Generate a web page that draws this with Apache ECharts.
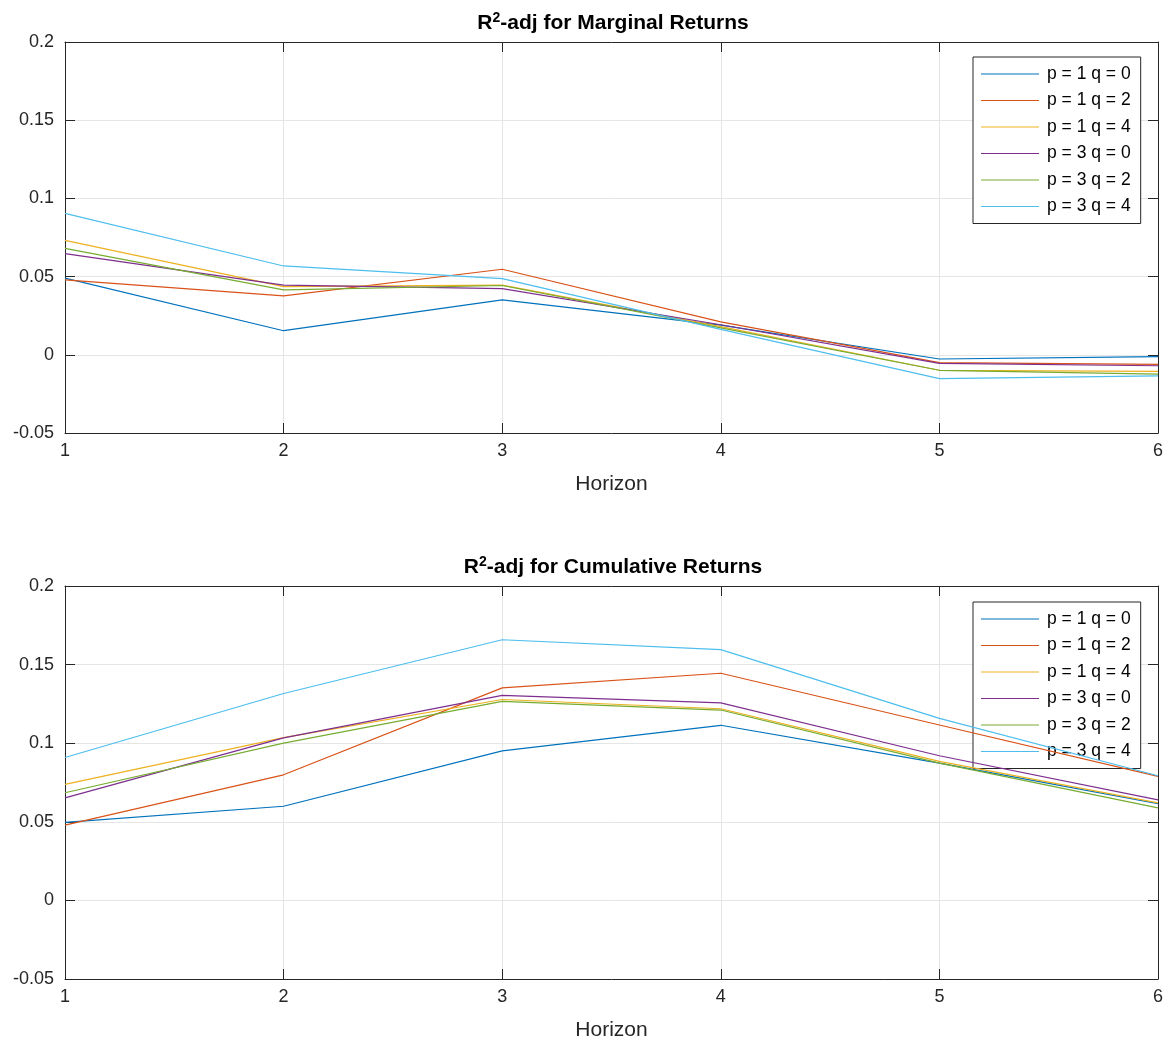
<!DOCTYPE html>
<html><head><meta charset="utf-8">
<script src="https://cdn.jsdelivr.net/npm/echarts@6/dist/echarts.min.js"></script>
<style>html,body{margin:0;padding:0;background:#fff}#c{width:1176px;height:1044px}</style>
</head><body><div id="c"></div>
<script>
const horizons = [1, 2, 3, 4, 5, 6];
const seriesNames = ['p = 1 q = 0', 'p = 1 q = 2', 'p = 1 q = 4', 'p = 3 q = 0', 'p = 3 q = 2', 'p = 3 q = 4'];
const colors = ['#0072BD', '#D95319', '#EDB120', '#7E2F8E', '#77AC30', '#4DBEEE'];
const yTicks = [-0.05, 0, 0.05, 0.1, 0.15, 0.2];

// Marginal returns
const marg_p1q0 = [0.0490, 0.0154, 0.0351, 0.0190, -0.0027, -0.0012];
const marg_p1q2 = [0.0479, 0.0377, 0.0547, 0.0210, -0.0050, -0.0061];
const marg_p1q4 = [0.0732, 0.0436, 0.0445, 0.0180, -0.0099, -0.0106];
const marg_p3q0 = [0.0647, 0.0445, 0.0423, 0.0192, -0.0055, -0.0070];
const marg_p3q2 = [0.0681, 0.0415, 0.0443, 0.0172, -0.0099, -0.0123];
const marg_p3q4 = [0.0904, 0.0568, 0.0487, 0.0163, -0.0152, -0.0135];

// Cumulative returns
const cum_p1q0 = [0.0496, 0.0599, 0.0951, 0.1114, 0.0873, 0.0616];
const cum_p1q2 = [0.0479, 0.0799, 0.1352, 0.1445, 0.1116, 0.0789];
const cum_p1q4 = [0.0738, 0.1036, 0.1278, 0.1219, 0.0884, 0.0620];
const cum_p3q0 = [0.0652, 0.1034, 0.1304, 0.1257, 0.0920, 0.0639];
const cum_p3q2 = [0.0685, 0.1000, 0.1266, 0.1211, 0.0873, 0.0589];
const cum_p3q4 = [0.0909, 0.1316, 0.1658, 0.1595, 0.1158, 0.0793];

const margSets = [marg_p1q0, marg_p1q2, marg_p1q4, marg_p3q0, marg_p3q2, marg_p3q4];
const cumSets = [cum_p1q0, cum_p1q2, cum_p1q4, cum_p3q0, cum_p3q2, cum_p3q4];

const FONT = '"Liberation Sans", Arial, Helvetica, sans-serif';
const AX = '#262626';
const GRIDC = '#e5e5e5';

function pairs(vals) { return horizons.map((h, i) => [h, vals[i]]); }

const grids = [
  { left: 65, top: 42, width: 1093, height: 391 },
  { left: 65, top: 586, width: 1093, height: 393 }
];

const xAxes = [], yAxes = [];
grids.forEach((g, gi) => {
  xAxes.push({
    type: 'value', gridIndex: gi, min: 1, max: 6, interval: 1, position: 'bottom',
    name: 'Horizon', nameLocation: 'middle', nameGap: 41,
    nameTextStyle: { fontFamily: FONT, fontSize: 21, color: AX },
    axisLine: { show: true, onZero: false, lineStyle: { color: AX, width: 1 } },
    axisTick: { show: true, inside: true, length: 10, lineStyle: { color: AX } },
    axisLabel: { fontFamily: FONT, fontSize: 18, color: AX, margin: 9 },
    splitLine: { show: true, lineStyle: { color: GRIDC, width: 1 } }
  });
  xAxes.push({
    type: 'value', gridIndex: gi, min: 1, max: 6, interval: 1, position: 'top',
    axisLine: { show: true, onZero: false, lineStyle: { color: AX, width: 1 } },
    axisTick: { show: true, inside: true, length: 10, lineStyle: { color: AX } },
    axisLabel: { show: false }, splitLine: { show: false }
  });
  yAxes.push({
    type: 'value', gridIndex: gi, min: -0.05, max: 0.2, interval: 0.05, position: 'left',
    axisLine: { show: true, onZero: false, lineStyle: { color: AX, width: 1 } },
    axisTick: { show: true, inside: true, length: 10, lineStyle: { color: AX } },
    axisLabel: { fontFamily: FONT, fontSize: 18, color: AX, margin: 11,
      formatter: v => String(parseFloat(v.toFixed(2))) },
    splitLine: { show: true, lineStyle: { color: GRIDC, width: 1 } }
  });
  yAxes.push({
    type: 'value', gridIndex: gi, min: -0.05, max: 0.2, interval: 0.05, position: 'right',
    axisLine: { show: true, onZero: false, lineStyle: { color: AX, width: 1 } },
    axisTick: { show: true, inside: true, length: 10, lineStyle: { color: AX } },
    axisLabel: { show: false }, splitLine: { show: false }
  });
});

const series = [];
[margSets, cumSets].forEach((sets, gi) => {
  sets.forEach((vals, si) => {
    series.push({
      type: 'line', name: seriesNames[si], xAxisIndex: gi * 2, yAxisIndex: gi * 2,
      data: pairs(vals), symbol: 'none', showSymbol: false, silent: true,
      lineStyle: { color: colors[si], width: 1.2 }, itemStyle: { color: colors[si] },
      z: 3 + si
    });
  });
});

function legendAt(top) {
  return {
    orient: 'vertical', left: 973, top: top, data: seriesNames,
    backgroundColor: '#fff', borderColor: AX, borderWidth: 1,
    padding: [8, 10, 8, 8], itemWidth: 58, itemHeight: 14, itemGap: 8.5,
    icon: 'path://M0,6.5 L58,6.5 L58,7.7 L0,7.7 Z',
    textStyle: { fontFamily: FONT, fontSize: 17.5, color: '#000', lineHeight: 14, padding: [0, 0, 0, 3] },
    selectedMode: false
  };
}

function titleAt(top, rest) {
  return {
    text: '{a|R}{s|2}{a|' + rest + '}', left: 608, top: top, textAlign: 'center',
    textStyle: {
      rich: {
        a: { fontFamily: FONT, fontSize: 21, fontWeight: 'bold', color: '#000' },
        s: { fontFamily: FONT, fontSize: 14, fontWeight: 'bold', color: '#000', padding: [0, 0, 11, 0] }
      }
    }
  };
}

const chart = echarts.init(document.getElementById('c'), null, { renderer: 'canvas' });
chart.setOption({
  animation: false,
  color: colors,
  title: [titleAt(6, '-adj for Marginal Returns'), titleAt(550, '-adj for Cumulative Returns')],
  legend: [legendAt(57), legendAt(602)],
  grid: grids,
  xAxis: xAxes,
  yAxis: yAxes,
  series: series
});
</script>
</body></html>
